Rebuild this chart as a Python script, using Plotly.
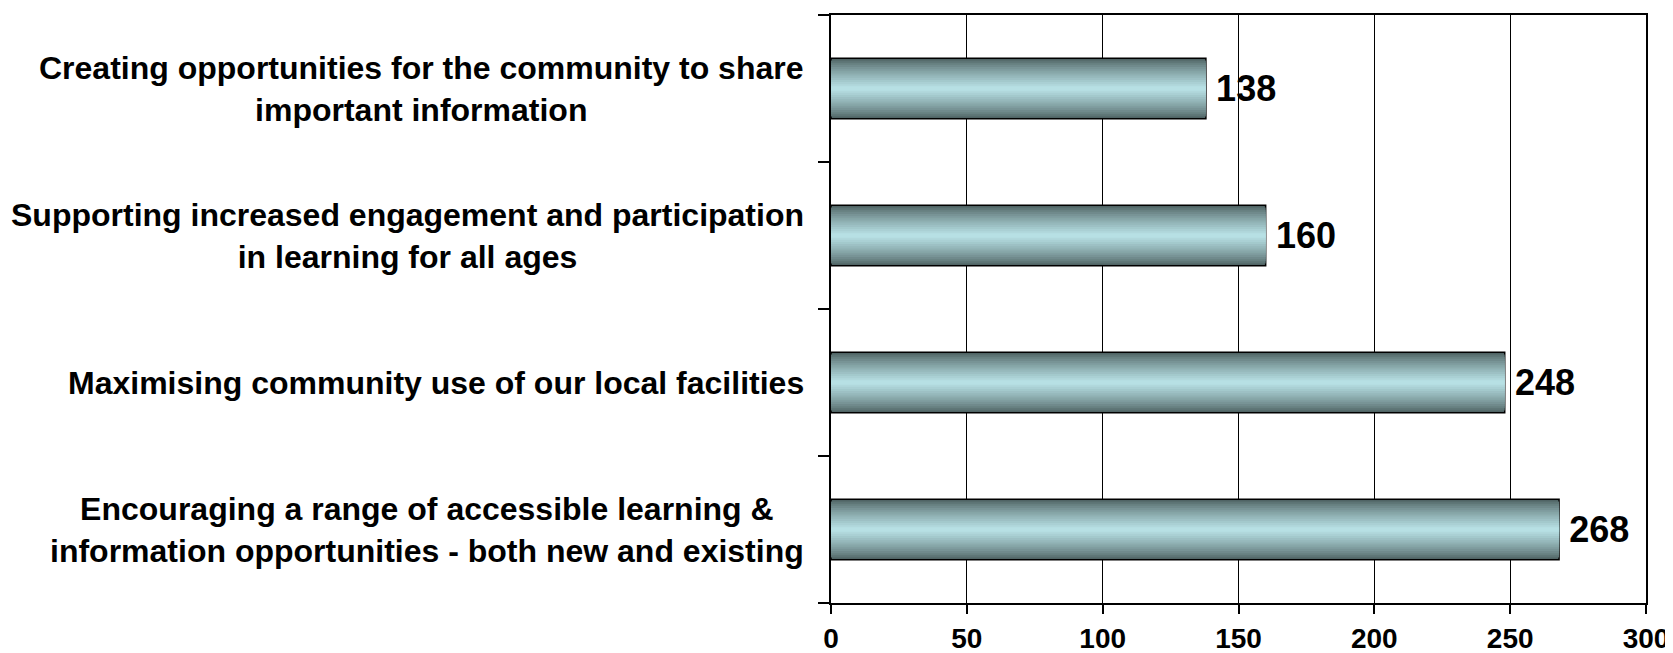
import plotly.graph_objects as go

# survey priorities (top to bottom as shown)
categories = [
    "Creating opportunities for the community to share<br>important information",
    "Supporting increased engagement and participation<br>in learning for all ages",
    "Maximising community use of our local facilities",
    "Encouraging a range of accessible learning &<br>information opportunities - both new and existing",
]
values = [138, 160, 248, 268]
x_ticks = [0, 50, 100, 150, 200, 250, 300]

FONT = "Liberation Sans, Arial, sans-serif"
dark = (80, 100, 101)
light = (183, 224, 228)
n_layers = 14
bar_w = 0.41

fig = go.Figure()

# fake the vertical gradient of the bars with narrowing overlaid bars
for k in range(n_layers):
    t = (k / (n_layers - 1)) ** 0.8
    c = tuple(round(dark[i] + (light[i] - dark[i]) * t) for i in range(3))
    w = bar_w * (1 - k / n_layers)
    first = k == 0
    fig.add_trace(go.Bar(
        y=categories, x=values, orientation="h",
        width=w,
        marker=dict(color="rgb(%d,%d,%d)" % c,
                    line=dict(color="black", width=1.5 if first else 0)),
        text=values if first else None,
        texttemplate="\u2009%{x}" if first else None,
        textposition="outside" if first else "none",
        textfont=dict(family=FONT, size=36, color="black", weight="bold"),
        cliponaxis=False,
        hoverinfo="skip",
        showlegend=False,
    ))

# category labels as centred annotations left of the plot
for cat in categories:
    fig.add_annotation(
        xref="paper", yref="y", x=0, y=cat, xanchor="right",
        xshift=-25, text=cat, showarrow=False, align="center",
        font=dict(family=FONT, size=32, color="black", weight="bold"),
    )

# page body has an 8px margin, so the figure is 8px smaller than the window
fig.update_layout(
    width=1665, height=645,
    margin=dict(l=823, r=27, t=7, b=50),
    plot_bgcolor="white", paper_bgcolor="white",
    barmode="overlay",
    font=dict(family=FONT, color="black"),
)
fig.update_xaxes(
    range=[0, 300], tickvals=x_ticks, automargin=False,
    showgrid=True, gridcolor="black", gridwidth=1.3,
    showline=True, linecolor="black", linewidth=2, mirror=True,
    ticks="outside", ticklen=9, tickwidth=1.5, tickcolor="black",
    ticklabelstandoff=0,
    tickfont=dict(family=FONT, size=28, color="black", weight="bold"),
    zeroline=False,
)
fig.update_yaxes(
    categoryorder="array", categoryarray=categories[::-1], automargin=False,
    showticklabels=False, tickson="boundaries",
    ticks="outside", ticklen=11, tickwidth=1.5, tickcolor="black",
    showline=True, linecolor="black", linewidth=2, mirror=True,
    showgrid=False,
)

fig.write_html("out.html")
